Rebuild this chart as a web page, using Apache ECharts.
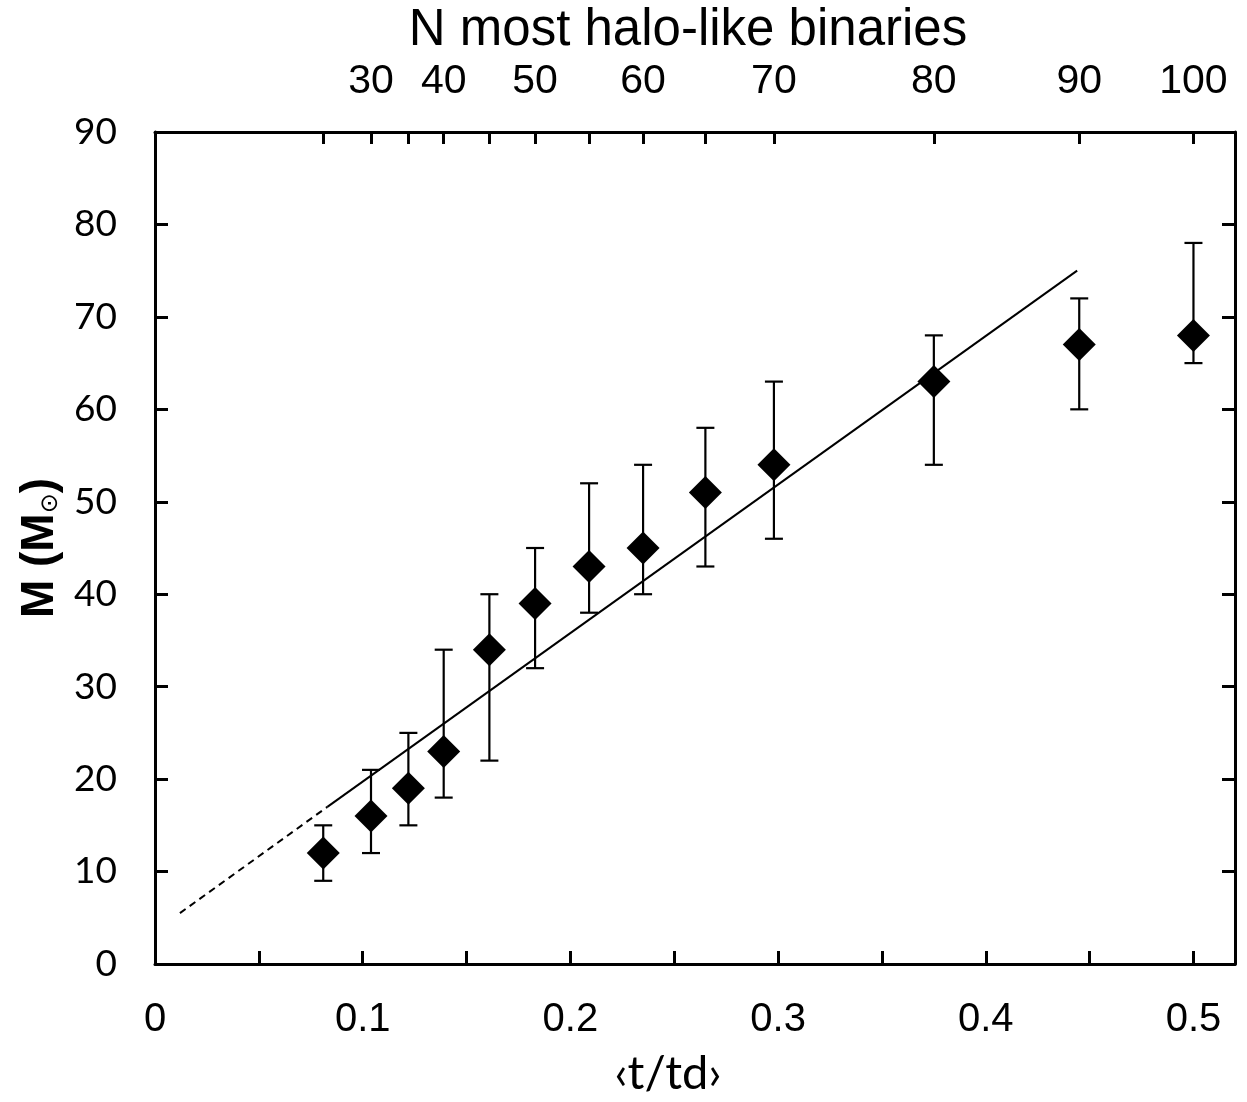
<!DOCTYPE html>
<html>
<head>
<meta charset="utf-8">
<title>Mass vs t/td</title>
<script src="https://cdn.jsdelivr.net/npm/echarts@6/dist/echarts.min.js"></script>
<style>
  html, body { margin: 0; padding: 0; background: #fff; }
  #chart { width: 1247px; height: 1102px; }
</style>
</head>
<body>
<div id="chart"></div>
<script>
// N most halo-like binaries included in each subsample
const nBinaries = [25, 30, 35, 40, 45, 50, 55, 60, 65, 70, 80, 90, 100];
// mean <t/td> of each subsample
const tRatio = [0.081, 0.104, 0.122, 0.139, 0.161, 0.183, 0.209, 0.235, 0.265, 0.298, 0.375, 0.445, 0.500];
// inferred mass (solar masses) with upper / lower bounds
const mass   = [12, 16, 19, 23, 34, 39, 43, 45, 51, 54, 63, 67, 68];
const massHi = [15, 21, 25, 34, 40, 45, 52, 54, 58, 63, 68, 72, 78];
const massLo = [9, 12, 15, 18, 22, 32, 38, 40, 43, 46, 54, 60, 65];
// linear fit: extrapolated (dashed) and fitted (solid) segments
const fitDashed = [[0.012, 5.5], [0.083, 17.0]];
const fitSolid  = [[0.083, 17.0], [0.444, 75.0]];
// labelled N values on the top axis
const nLabelled = [30, 40, 50, 60, 70, 80, 90, 100];
// bottom axis ticks and labels
const xTicks  = [0, 0.05, 0.1, 0.15, 0.2, 0.25, 0.3, 0.35, 0.4, 0.45, 0.5];
const xLabels = [0, 0.1, 0.2, 0.3, 0.4, 0.5];

const topLabelValues = nLabelled.map(n => tRatio[nBinaries.indexOf(n)]);

const chart = echarts.init(document.getElementById('chart'), null, { renderer: 'canvas' });

const axisCommon = {
  axisLine: { show: true, onZero: false, lineStyle: { color: '#000', width: 3 } },
  axisTick: { show: true, inside: true, length: 13, lineStyle: { color: '#000', width: 3 } },
  splitLine: { show: false }
};

const option = {
  backgroundColor: '#fff',
  animation: false,
  grid: { left: 155, right: 12, top: 131, bottom: 128, containLabel: false },
  xAxis: [
    Object.assign({}, axisCommon, {
      type: 'value', position: 'bottom', min: 0, max: 0.52,
      name: '\u2039t/td\u203A', nameLocation: 'middle', nameGap: 86,
      nameTextStyle: { fontFamily: 'Lato, "Open Sans", sans-serif', fontSize: 47, color: '#000', padding: [0, 54, 0, 0] },
      axisTick: Object.assign({}, axisCommon.axisTick, { customValues: xTicks }),
      axisLabel: {
        customValues: xLabels, margin: 36,
        fontFamily: '"Liberation Sans", Arial, sans-serif', fontSize: 40, color: '#000',
        formatter: v => (v === 0 ? '0' : String(+v.toFixed(2)))
      }
    }),
    Object.assign({}, axisCommon, {
      type: 'value', position: 'top', min: 0, max: 0.52,
      name: 'N most halo-like binaries', nameLocation: 'middle', nameGap: 76,
      nameTextStyle: { fontFamily: '"Liberation Sans", Arial, sans-serif', fontSize: 51, color: '#000', padding: [0, 14, 0, 0] },
      axisTick: Object.assign({}, axisCommon.axisTick, { customValues: tRatio, length: 12 }),
      axisLabel: {
        customValues: topLabelValues, margin: 30,
        fontFamily: '"Liberation Sans", Arial, sans-serif', fontSize: 41, color: '#000',
        formatter: v => String(nBinaries[tRatio.indexOf(v)])
      }
    })
  ],
  yAxis: [
    Object.assign({}, axisCommon, {
      type: 'value', position: 'left', min: 0, max: 90, interval: 10,
      name: '{m|M (M}{s|\u2299}{m|)}', nameLocation: 'middle', nameGap: 92, nameRotate: 90,
      nameTextStyle: {
        rich: {
          m: { fontFamily: '"Liberation Sans", Arial, sans-serif', fontWeight: 'bold', fontSize: 46, color: '#000' },
          s: { fontFamily: '"DejaVu Sans", sans-serif', fontSize: 24, color: '#000', verticalAlign: 'bottom', padding: [16, 0, 0, 0] }
        }
      },
      axisLabel: { margin: 38, fontFamily: 'Lato, "Open Sans", sans-serif', fontSize: 37, color: '#000' }
    }),
    Object.assign({}, axisCommon, {
      type: 'value', position: 'right', min: 0, max: 90, interval: 10,
      axisLabel: { show: false }
    })
  ],
  series: [
    {
      name: 'fit (extrapolated)', type: 'line', xAxisIndex: 0, yAxisIndex: 0,
      data: fitDashed, showSymbol: false, symbol: 'none',
      lineStyle: { color: '#000', width: 2, type: [7, 5] }, z: 2
    },
    {
      name: 'fit', type: 'line', xAxisIndex: 0, yAxisIndex: 0,
      data: fitSolid, showSymbol: false, symbol: 'none',
      lineStyle: { color: '#000', width: 2 }, z: 2
    },
    {
      name: 'mass range', type: 'custom', xAxisIndex: 0, yAxisIndex: 0,
      data: tRatio.map((t, i) => [t, massLo[i], massHi[i]]),
      renderItem: function (params, api) {
        const lo = api.coord([api.value(0), api.value(1)]);
        const hi = api.coord([api.value(0), api.value(2)]);
        const cap = 9;
        const style = { stroke: '#000', lineWidth: 2.2 };
        return {
          type: 'group',
          children: [
            { type: 'line', shape: { x1: lo[0], y1: lo[1], x2: hi[0], y2: hi[1] }, style: style },
            { type: 'line', shape: { x1: lo[0] - cap, y1: lo[1], x2: lo[0] + cap, y2: lo[1] }, style: style },
            { type: 'line', shape: { x1: hi[0] - cap, y1: hi[1], x2: hi[0] + cap, y2: hi[1] }, style: style }
          ]
        };
      },
      z: 3
    },
    {
      name: 'mass', type: 'scatter', xAxisIndex: 0, yAxisIndex: 0,
      data: tRatio.map((t, i) => [t, mass[i]]),
      symbol: 'diamond', symbolSize: [33, 33],
      itemStyle: { color: '#000', opacity: 1 }, z: 4
    }
  ]
};

chart.setOption(option);
</script>
</body>
</html>
